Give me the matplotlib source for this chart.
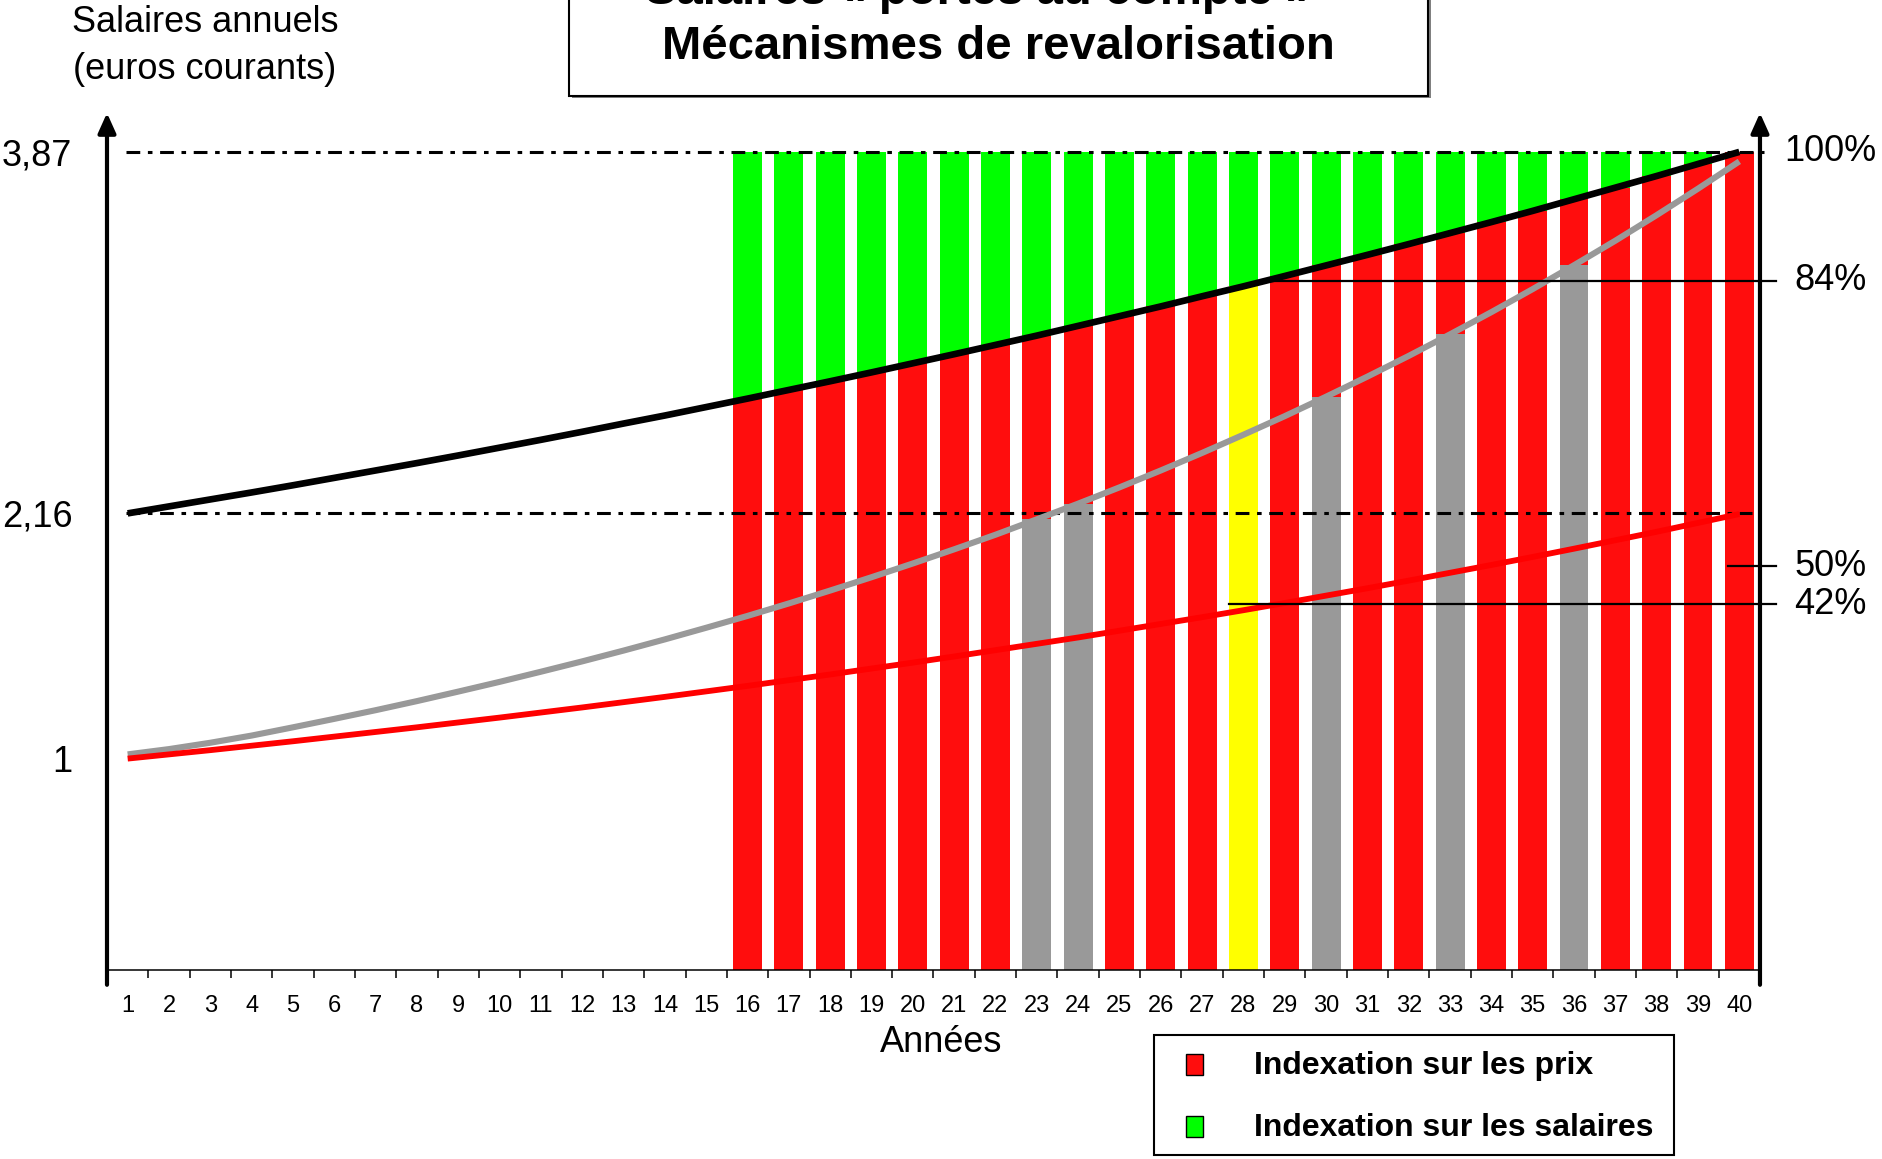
import matplotlib.pyplot as plt
from matplotlib.patches import Rectangle

plt.rcParams['font.family'] = ['Liberation Sans', 'DejaVu Sans']

# valeurs (années 1 à 40)
annees = list(range(1, 41))
salaire = [1.02, 1.045, 1.075, 1.109, 1.148, 1.188, 1.229, 1.272, 1.317, 1.363,
           1.411, 1.460, 1.511, 1.564, 1.619, 1.675, 1.734, 1.795, 1.858, 1.923,
           1.990, 2.059, 2.132, 2.206, 2.283, 2.363, 2.446, 2.532, 2.620, 2.712,
           2.807, 2.905, 3.007, 3.112, 3.221, 3.334, 3.450, 3.571, 3.696, 3.825]
prix = [1.000, 1.020, 1.040, 1.061, 1.082, 1.104, 1.126, 1.148, 1.171, 1.194,
        1.218, 1.242, 1.267, 1.292, 1.318, 1.344, 1.371, 1.398, 1.426, 1.454,
        1.483, 1.513, 1.543, 1.573, 1.605, 1.637, 1.669, 1.702, 1.736, 1.771,
        1.806, 1.842, 1.879, 1.916, 1.954, 1.993, 2.033, 2.073, 2.115, 2.157]
salaire_porte = [2.160, 2.193, 2.226, 2.259, 2.293, 2.328, 2.363, 2.398, 2.434, 2.471,
                 2.508, 2.546, 2.585, 2.623, 2.663, 2.703, 2.744, 2.785, 2.827, 2.870,
                 2.913, 2.957, 3.001, 3.047, 3.093, 3.139, 3.187, 3.234, 3.283, 3.333,
                 3.383, 3.434, 3.486, 3.538, 3.591, 3.646, 3.701, 3.756, 3.813, 3.870]
plafond = 3.87
niveau_bas = 2.16

annees_barres = list(range(16, 41))
annees_grises = [23, 24, 30, 33, 36]
annee_jaune = 28

ticks_gauche = [1, 2.16, 3.87]
labels_gauche = ['1', '2,16', '3,87']
niveaux_pct = [3.87, 3.26, 1.91, 1.73]
labels_pct = ['100%', '84%', '50%', '42%']

ROUGE = '#ff0d0d'
VERT = '#00ff00'
GRIS = '#999999'
JAUNE = '#ffff00'

fig = plt.figure(figsize=(18.83, 11.59), dpi=100)
ax = fig.add_axes([0.05682, 0.16307, 0.87785, 0.73943])
ax.set_xlim(0.5, 40.5)
ax.set_ylim(0, 4.054)

# barres empilées
w = 0.7
for a in annees_barres:
    p = salaire_porte[a - 1]
    if a == annee_jaune:
        ax.bar(a, p, width=w, color=JAUNE, zorder=1)
    elif a in annees_grises:
        s = salaire[a - 1]
        ax.bar(a, s, width=w, color=GRIS, zorder=1)
        ax.bar(a, p - s, bottom=s, width=w, color=ROUGE, zorder=1)
    else:
        ax.bar(a, p, width=w, color=ROUGE, zorder=1)
    ax.bar(a, plafond - p, bottom=p, width=w, color=VERT, zorder=1)

# lignes pointillées
tiret = (0, (4.5, 2.5, 1.5, 2.5))
ax.plot([0.95, 40.6], [plafond, plafond], color='black', lw=2.2, ls=tiret, zorder=3,
        clip_on=False)
ax.plot([0.95, 40.3], [niveau_bas, niveau_bas], color='black', lw=2.2, ls=tiret, zorder=3)

# courbes
ax.plot(annees, salaire, color=GRIS, lw=4.4, zorder=4, solid_capstyle='butt')
ax.plot(annees, prix, color='#ff0000', lw=4.2, zorder=4, solid_capstyle='butt')
ax.plot(annees, salaire_porte, color='black', lw=4.8, zorder=5, solid_capstyle='butt')

# repères à droite
debuts = [None, 28.65, 39.73, 27.65]
for niv, lab, x0 in zip(niveaux_pct, labels_pct, debuts):
    if x0 is not None:
        ax.plot([x0, 40.89], [niv, niv], color='black', lw=1.6, zorder=6, clip_on=False)
    ax.text(42.2, niv, lab, fontsize=26, ha='center', va='center')

# axes avec flèches
for xa in (0.5, 40.5):
    ax.annotate('', xy=(xa, 4.054), xytext=(xa, -0.07), annotation_clip=False,
                arrowprops=dict(arrowstyle='-|>,head_length=0.4,head_width=0.18',
                                lw=3, color='black', mutation_scale=30,
                                shrinkA=0, shrinkB=0), zorder=7)

for s in ('top', 'left', 'right'):
    ax.spines[s].set_visible(False)
ax.spines['bottom'].set_linewidth(1.1)

ax.set_xticks(annees)
ax.set_xticklabels([str(a) for a in annees], fontsize=17)
ax.set_xticks([a + 0.5 for a in annees], minor=True)
ax.tick_params(axis='x', which='major', length=0, pad=18)
ax.tick_params(axis='x', which='minor', length=6, width=1.1, direction='out')

ax.set_yticks(ticks_gauche)
ax.set_yticklabels(labels_gauche, fontsize=26)
ax.tick_params(axis='y', length=0, pad=25)

fig.text(941 / 1883, 1 - 1043 / 1159, 'Années', fontsize=26, ha='center', va='center')
fig.text(205 / 1883, 1 - 46 / 1159, 'Salaires annuels\n(euros courants)', fontsize=26,
         ha='center', va='center', linespacing=1.45)

# cadre du titre (la première ligne sort du cadre en haut)
fig.patches.append(Rectangle((572 / 1883, 1 - 98 / 1159), 859 / 1883, 0.2,
                             transform=fig.transFigure, facecolor='#808080',
                             edgecolor='none', zorder=0))
fig.patches.append(Rectangle((569 / 1883, 1 - 96 / 1159), 859 / 1883, 0.2,
                             transform=fig.transFigure, facecolor='white',
                             edgecolor='black', lw=1.5, zorder=1))
fig.text(979 / 1883, 1 - 4 / 1159, 'Salaires « portés au compte »', fontsize=34,
         fontweight='bold', ha='center', va='baseline', zorder=2)
fig.text(998 / 1883, 1 - 59 / 1159, 'Mécanismes de revalorisation', fontsize=34,
         fontweight='bold', ha='center', va='baseline', zorder=2)

# légende
fig.patches.append(Rectangle((1154 / 1883, 1 - 1155 / 1159), 520 / 1883, 120 / 1159,
                             transform=fig.transFigure, facecolor='white',
                             edgecolor='black', lw=1.5))
for yc, col, lab in [(1064, ROUGE, 'Indexation sur les prix'),
                     (1126, VERT, 'Indexation sur les salaires')]:
    fig.patches.append(Rectangle(((1195 - 8.5) / 1883, 1 - (yc + 10.5) / 1159),
                                 17 / 1883, 21 / 1159, transform=fig.transFigure,
                                 facecolor=col, edgecolor='black', lw=1))
    fig.text(1254 / 1883, 1 - (yc + 2) / 1159, lab, fontsize=23, fontweight='bold',
             ha='left', va='center')

fig.savefig('out.png', dpi=100)
plt.close(fig)
